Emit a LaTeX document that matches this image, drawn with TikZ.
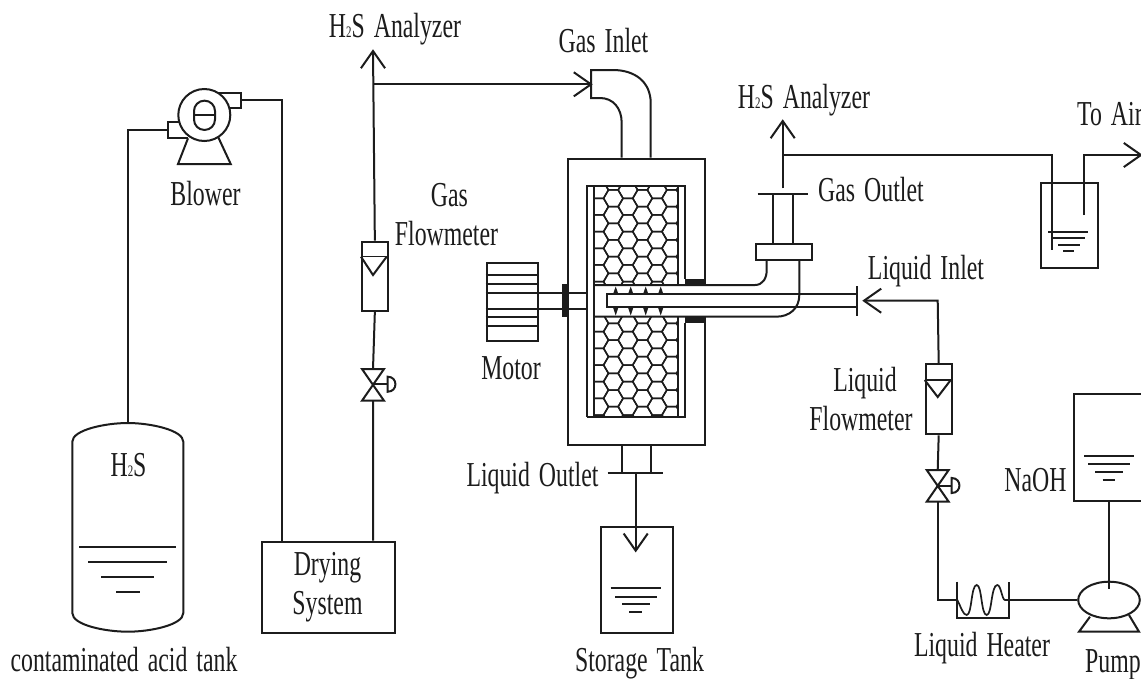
\documentclass[tikz,border=0pt]{standalone}
\usepackage{fontspec}
\setmainfont[FakeStretch=0.68]{Liberation Serif}
\usetikzlibrary{shapes.geometric}
\definecolor{ink}{HTML}{1C1C1C}
\newcommand{\HtwoS}{H{\fontsize{16}{16}\selectfont 2}S}
\newcommand{\gapsp}{\hspace{9pt}}
% open arrowhead: tip, direction in which the barbs run back from the tip
\newcommand{\barbs}[2]{\draw[pipe] (#1) ++(#2+35:21) -- (#1) -- ++(#2-35:21);}
\tikzset{
  pipe/.style={line width=2pt,draw=ink,line join=miter},
  thinpipe/.style={line width=1.5pt,draw=ink},
  lab/.style={anchor=base,inner sep=0pt,text=ink,font=\fontsize{35}{35}\selectfont},
  vessel/.style={draw=ink,line width=2pt,inner sep=0pt,anchor=north west},
  solid black/.style={fill=ink,draw=none}
}
\begin{document}
\begin{tikzpicture}[x=1pt,y=-1pt]
\useasboundingbox (0,0) rectangle (1141,678);
\clip (0,0) rectangle (1141,678);
\fill[white] (0,0) rectangle (1141,678);

% ---- acid tank
\coordinate (tankTop) at (128,423);
\draw[pipe] (72.3,441.7) .. controls (72.3,430) and (105,423) .. (tankTop) .. controls (150,423) and (183.3,430) .. (183.3,441.7)
  -- (183.3,613) .. controls (183.3,625) and (150,631.7) .. (128,631.7) .. controls (105,631.7) and (72.3,625) .. (72.3,613) -- cycle;
\draw[pipe] (79.3,546.7) -- (176,546.7) (88,562) -- (167.3,562) (101,577.3) -- (154.3,577.3) (116,592.3) -- (140,592.3);

% ---- blower
\node[draw=ink,line width=2pt,circle,minimum size=52pt,inner sep=0pt] (blower) at (204.3,115) {};
\node[draw=ink,line width=2pt,rectangle,rounded corners=10.4pt,minimum width=21pt,minimum height=29.3pt,inner sep=0pt] (blowerCore) at (204.5,115.3) {};
\draw[pipe] (blowerCore.west) -- (blowerCore.east);
\draw[pipe] (218,93) -- (240.7,93) -- (240.7,108.3) -- (230,108.3);
\draw[pipe] (179,122.3) -- (168.3,122.3) -- (168.3,137.7) -- (188,137.7);
\draw[pipe] (188,138.3) -- (178,164) -- (230.7,164) -- (218,136.7);
\coordinate (blowIn) at (168.3,130);
\coordinate (blowOut) at (240.7,100);
\draw[pipe] (tankTop) -- (128,130) -- (blowIn);

% ---- drying system
\node[vessel,minimum width=133.3pt,minimum height=91pt] (drying) at (260.7,540.7) {};
\coordinate (dryL) at (281.5,540.7);
\coordinate (dryR) at (373,540.7);
\draw[pipe] (blowOut) -- (281.5,100) -- (dryL);

% ---- gas line, flowmeter, valve
\coordinate (an1) at (373,51);
\node[vessel,minimum width=25.7pt,minimum height=69.3pt] (fm1) at (361,240.7) {};
\draw[thinpipe] (361,256.7) -- (386.7,256.7);
\draw[pipe] (361,256.7) -- (373,275) -- (386.7,256.7);
\coordinate (v1) at (373,384.3);
\draw[pipe] (dryR) -- (373,400.7) (373,369) -- (fm1.south);
\draw[pipe] (v1) ++(-11,-15.3) -- ++(22,0) -- ++(-22,31.7) -- ++(22,0) -- cycle;
\draw[pipe] (v1) -- (387.7,384.3);
\draw[pipe] (387.7,376.7) .. controls (398,376.7) and (398,391.7) .. (387.7,391.7) -- cycle;
\draw[pipe] (fm1.north) -- (an1);
\barbs{an1}{90}
\coordinate (gasIn) at (591,84.3);
\draw[pipe] (373,84.3) -- (gasIn);
\barbs{gasIn}{180}

% ---- reactor
\node[vessel,minimum width=137.3pt,minimum height=286.3pt] (reactor) at (566.7,157.7) {};
\fill[white] (697,285) rectangle (712,317);
\draw[pipe] (586.7,416.7) -- (586.7,185.7) -- (685,185.7) -- (685,279);
\draw[pipe] (685,323) -- (685,416.7) -- (586.7,416.7);
\draw[pipe] (594,185.7) -- (594,416.7);
\draw[pipe] (678,185.7) -- (678,285) (678,317) -- (678,416.7);

% honeycomb
\begin{scope}
\clip (594,185.7) rectangle (678,285) (594,317) rectangle (678,416.7);
\foreach \k in {-2,...,6}{
  \foreach \j in {-1,...,14}{
    \pgfmathsetmacro{\cx}{613.3+14.6*\k}
    \pgfmathsetmacro{\cy}{198.3+16.67*\j+8.335*(mod(\k+4,2))}
    \draw[thinpipe] (\cx-9.73,\cy) -- (\cx-4.87,\cy-8.335) -- (\cx+4.87,\cy-8.335) -- (\cx+9.73,\cy) -- (\cx+4.87,\cy+8.335) -- (\cx-4.87,\cy+8.335) -- cycle;
  }
}
\end{scope}

% gas inlet elbow
\draw[pipe] (650.7,157.7) -- (650.7,103) .. controls (650.7,82) and (635,70) .. (613,70) -- (591,70) -- (591,98) -- (600,98) .. controls (613,98) and (621.7,108) .. (621.7,123) -- (621.7,157.7);

% seals
\fill[solid black] (561.7,284) rectangle (567,317);
\fill[solid black] (685,279) rectangle (704.5,285.5);
\fill[solid black] (685,316.5) rectangle (704.5,323);

% motor
\node[vessel,minimum width=51pt,minimum height=78.3pt] (motor) at (485.7,261.7) {};
\draw[pipe] (485.7,275) -- (536.7,275) (485.7,284) -- (536.7,284) (485.7,292.7) -- (536.7,292.7) (485.7,309.3) -- (536.7,309.3) (485.7,317) -- (536.7,317) (485.7,325.7) -- (536.7,325.7);
\draw[pipe] (536.7,292.7) -- (586.7,292.7) (536.7,309.3) -- (586.7,309.3);

% hub, gas outlet pipe
\draw[pipe] (594,285) -- (755,285) .. controls (763,285) and (766.7,278) .. (766.7,270) -- (766.7,259.3);
\draw[pipe] (594,316.7) -- (776,316.7) .. controls (790,316.7) and (799.3,308) .. (799.3,295) -- (799.3,259.3);
\node[vessel,minimum width=56pt,minimum height=16.6pt] (flange) at (755,242.7) {};
\draw[pipe] (773.3,194.3) -- (773.3,242.7) (793.3,194.3) -- (793.3,242.7);
\draw[pipe] (757.7,194.3) -- (807.7,194.3);
\coordinate (outTop) at (782.7,188.3);
\coordinate (an2) at (782.7,121);
\draw[pipe] (outTop) -- (an2);
\barbs{an2}{90}

% liquid tube
\draw[pipe] (856.7,294.3) -- (606.7,294.3) -- (606.7,307.3) -- (856.7,307.3);
\draw[pipe] (856.7,286) -- (856.7,315.7);
\foreach \x in {615.7,630.7,645.7,660.7}{
  \fill[solid black] (\x-2.8,294.5) -- (\x,286.5) -- (\x+2.8,294.5) -- cycle;
  \fill[solid black] (\x-2.8,307) -- (\x,315.5) -- (\x+2.8,307) -- cycle;
}

% liquid outlet and storage tank
\draw[pipe] (621.7,444) -- (621.7,472.7) (650.7,444) -- (650.7,472.7);
\draw[pipe] (607.7,472.7) -- (663.3,472.7);
\node[vessel,minimum width=71.7pt,minimum height=105.7pt] (storage) at (600,526) {};
\coordinate (outBot) at (635.7,472.7);
\coordinate (stIn) at (635.7,550.7);
\draw[pipe] (outBot) -- (stIn);
\barbs{stIn}{-90}
\draw[pipe] (610.7,588.3) -- (661,588.3) (615,596.7) -- (657,596.7) (622,604) -- (650,604) (629,611.7) -- (642,611.7);

% scrubber beaker
\node[vessel,minimum width=57pt,minimum height=85pt] (beaker) at (1040,182) {};
\draw[pipe] (782.7,155) -- (1052,155) -- (1052,250);
\coordinate (air) at (1141,155);
\draw[pipe] (1084,215) -- (1084,155) -- (air);
\barbs{air}{180}
\draw[pipe] (1048,232) -- (1088,232) (1053,238) -- (1085,238) (1058,245) -- (1080,245) (1063,251) -- (1074,251);

% liquid line
\node[vessel,minimum width=26pt,minimum height=70pt] (fm2) at (924.7,363.3) {};
\draw[thinpipe] (924.7,380) -- (950.7,380);
\draw[pipe] (924.7,380) -- (937.7,397) -- (950.7,380);
\coordinate (liqIn) at (864,300.7);
\draw[pipe] (fm2.north) -- (937.7,300.7) -- (liqIn);
\barbs{liqIn}{0}
\coordinate (v2) at (937.7,485.7);
\draw[pipe] (fm2.south) -- (937.7,470);
\draw[pipe] (v2) ++(-11,-15.7) -- ++(22,0) -- ++(-22,31.7) -- ++(22,0) -- cycle;
\draw[pipe] (v2) -- (951.7,485.7);
\draw[pipe] (951.7,478) .. controls (962,478) and (962,493) .. (951.7,493) -- cycle;
\coordinate (htL) at (957.3,600);
\coordinate (htR) at (1009,600);
\draw[pipe] (937.7,501.4) -- (937.7,600) -- (htL);
\draw[pipe] (957.3,581.7) -- (957.3,617.7) -- (1009,617.7) -- (1009,581.7);
\draw[pipe,line width=1.7pt] (htL) .. controls (961,607) and (963,615) .. (966.7,615) .. controls (972,615) and (971,585) .. (976.7,585) .. controls (982,585) and (981,615) .. (986.7,615) .. controls (992,615) and (991,585) .. (997.3,585) .. controls (1001,585) and (1002,600) .. (1005,600) -- (htR);

% pump and NaOH tank
\node[draw=ink,line width=2pt,ellipse,minimum width=61.6pt,minimum height=36.6pt,inner sep=0pt] (pump) at (1109,600) {};
\draw[pipe] (1090,616.7) -- (1079,631.7) -- (1139,631.7) -- (1129,615);
\draw[pipe] (htR) -- (pump.west);
\node[vessel,minimum width=100pt,minimum height=106.7pt] (naoh) at (1073.3,393.3) {};
\coordinate (pumpIn) at (1109,589.3);
\coordinate (naohOut) at (1109,500);
\draw[pipe] (naohOut) -- (pumpIn);
\draw[pipe] (1084,456.3) -- (1134,456.3) (1088,464) -- (1129.7,464) (1095,471.7) -- (1123,471.7) (1102.7,480) -- (1115,480);

% ---- labels
\node[lab] (l1) at (395,37) {\HtwoS\gapsp Analyzer};
\node[lab] (l2) at (603.5,52) {Gas\gapsp Inlet};
\node[lab] (l3) at (804,108) {\HtwoS\gapsp Analyzer};
\node[lab,anchor=base west] (l4) at (1077,125) {To\gapsp Air};
\node[lab] (l5) at (205.5,205) {Blower};
\node[lab] (l6) at (449.5,206) {Gas};
\node[lab] (l7) at (446.5,245) {Flowmeter};
\node[lab,anchor=base west] (l8) at (818,201.7) {Gas\gapsp Outlet};
\node[lab] (l9) at (926,279) {Liquid\gapsp Inlet};
\node[lab] (l10) at (511,379) {Motor};
\node[lab] (l11) at (865,391) {Liquid};
\node[lab] (l12) at (861,430) {Flowmeter};
\node[lab] (l13) at (1035.5,491.7) {NaOH};
\node[lab] (l14) at (128.5,476.7) {\HtwoS};
\node[lab] (l15) at (327.5,575) {Drying};
\node[lab] (l16) at (327.5,614) {System};
\node[lab] (l17) at (532.5,486.7) {Liquid\gapsp Outlet};
\node[lab] (l18) at (982,656.7) {Liquid\gapsp Heater};
\node[lab] (l19) at (1113,672) {Pump};
\node[lab] (l20) at (639.5,671.7) {Storage\gapsp Tank};
\node[lab] (l21) at (124,671.7) {contaminated\gapsp acid\gapsp tank};
\end{tikzpicture}
\end{document}
